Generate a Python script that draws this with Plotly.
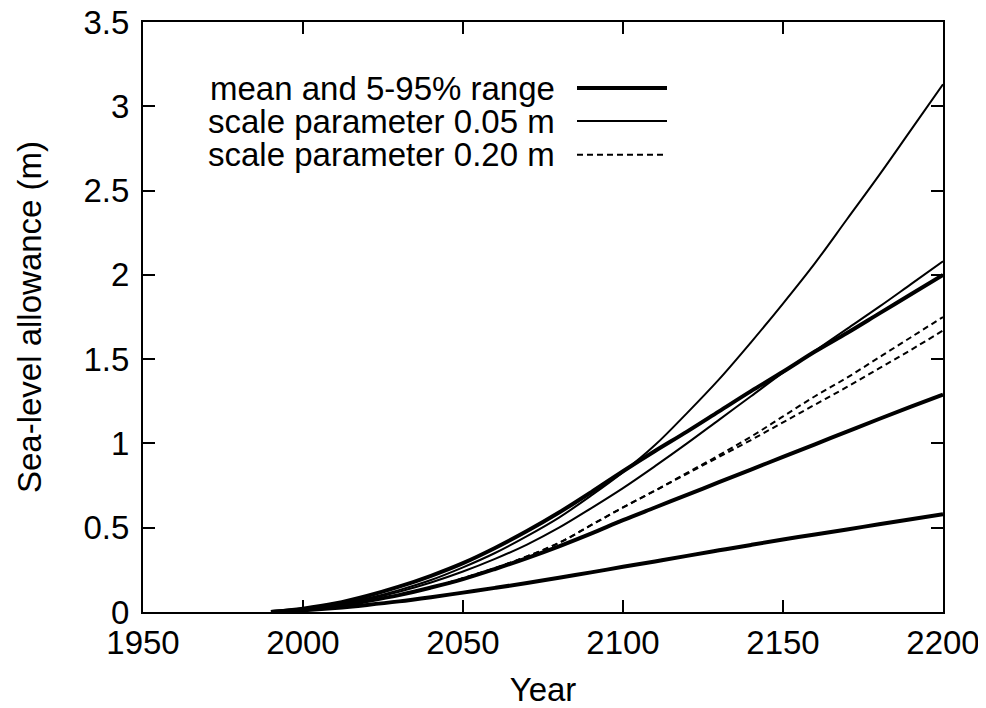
import plotly.graph_objects as go

years = [1990, 2000, 2010, 2020, 2030, 2040, 2050, 2060, 2070, 2080, 2090,
         2100, 2110, 2120, 2130, 2140, 2150, 2160, 2170, 2180, 2190, 2200]

mean_vals = [0, 0.015, 0.035, 0.065, 0.10, 0.145, 0.195, 0.255, 0.32, 0.39, 0.465,
             0.545, 0.62, 0.695, 0.77, 0.845, 0.92, 0.995, 1.07, 1.145, 1.218, 1.29]
p05_vals = [0, 0.01, 0.024, 0.042, 0.063, 0.088, 0.115, 0.143, 0.172, 0.203, 0.235,
            0.268, 0.30, 0.333, 0.366, 0.398, 0.43, 0.46, 0.49, 0.52, 0.55, 0.58]
p95_vals = [0, 0.02, 0.05, 0.095, 0.15, 0.215, 0.29, 0.38, 0.48, 0.59, 0.71,
            0.835, 0.955, 1.07, 1.19, 1.31, 1.425, 1.545, 1.655, 1.77, 1.885, 2.0]
s005_a = [0, 0.015, 0.04, 0.08, 0.13, 0.19, 0.265, 0.35, 0.45, 0.56, 0.69,
          0.83, 0.99, 1.18, 1.38, 1.60, 1.83, 2.07, 2.33, 2.59, 2.86, 3.13]
s005_b = [0, 0.015, 0.04, 0.075, 0.12, 0.175, 0.24, 0.315, 0.40, 0.50, 0.615,
          0.735, 0.865, 1.00, 1.14, 1.28, 1.42, 1.55, 1.68, 1.81, 1.945, 2.08]
s020_a = [0, 0.015, 0.035, 0.065, 0.10, 0.145, 0.20, 0.26, 0.33, 0.41, 0.515,
          0.62, 0.72, 0.825, 0.93, 1.04, 1.16, 1.28, 1.39, 1.51, 1.63, 1.75]
s020_b = [0, 0.015, 0.035, 0.065, 0.10, 0.145, 0.20, 0.26, 0.33, 0.41, 0.515,
          0.62, 0.72, 0.82, 0.92, 1.02, 1.125, 1.23, 1.335, 1.445, 1.555, 1.67]

legend_labels = ["mean and 5-95% range", "scale parameter 0.05 m", "scale parameter 0.20 m"]

FONT = "Liberation Sans, Arial, Helvetica, sans-serif"
FS = 33
fig = go.Figure()

def add(y, width, dash="solid"):
    fig.add_trace(go.Scatter(x=years, y=y, mode="lines", line_shape="spline",
                             line=dict(color="black", width=width, dash=dash),
                             showlegend=False, hoverinfo="skip"))

add(s020_a, 2, "6px,4px")
add(s020_b, 2, "6px,4px")
add(s005_a, 2)
add(s005_b, 2)
add(p05_vals, 4)
add(mean_vals, 4)
add(p95_vals, 4)

# legend (gnuplot-style: text right aligned, sample to the right)
leg_y = [0.888, 0.832, 0.775]
leg_w = [4, 2, 2]
leg_d = ["solid", "solid", "6px,4px"]
for lab, yy, w, d in zip(legend_labels, leg_y, leg_w, leg_d):
    fig.add_annotation(xref="paper", yref="paper", x=0.518, y=yy, text=lab,
                       showarrow=False, xanchor="right", yanchor="middle",
                       font=dict(family=FONT, size=FS, color="black"))
    fig.add_shape(type="line", xref="paper", yref="paper", x0=0.5425, x1=0.655,
                  y0=yy, y1=yy, line=dict(color="black", width=w, dash=d))

axis_common = dict(showline=True, linecolor="black", linewidth=2, mirror="ticks",
                   ticks="inside", ticklen=12, tickwidth=1.5, tickcolor="black",
                   showgrid=False, zeroline=False, automargin=False,
                   ticklabeloverflow="allow",
                   tickfont=dict(family=FONT, size=FS, color="black"))

fig.update_xaxes(range=[1950, 2200], tickvals=[1950, 2000, 2050, 2100, 2150, 2200],
                 title=dict(text="Year", font=dict(family=FONT, size=FS, color="black"), standoff=20),
                 **axis_common)
fig.update_yaxes(range=[0, 3.5], tickvals=[0, 0.5, 1, 1.5, 2, 2.5, 3, 3.5],
                 ticktext=["0", "0.5", "1", "1.5", "2", "2.5", "3", "3.5"],
                 ticklabelstandoff=5,
                 title=dict(text="Sea-level allowance (m)", font=dict(family=FONT, size=FS, color="black"), standoff=32),
                 **axis_common)

fig.update_layout(width=978, height=700, margin=dict(l=135, r=43, t=14, b=96),
                  plot_bgcolor="white", paper_bgcolor="white",
                  font=dict(family=FONT, color="black"))

fig.write_html("out.html")
